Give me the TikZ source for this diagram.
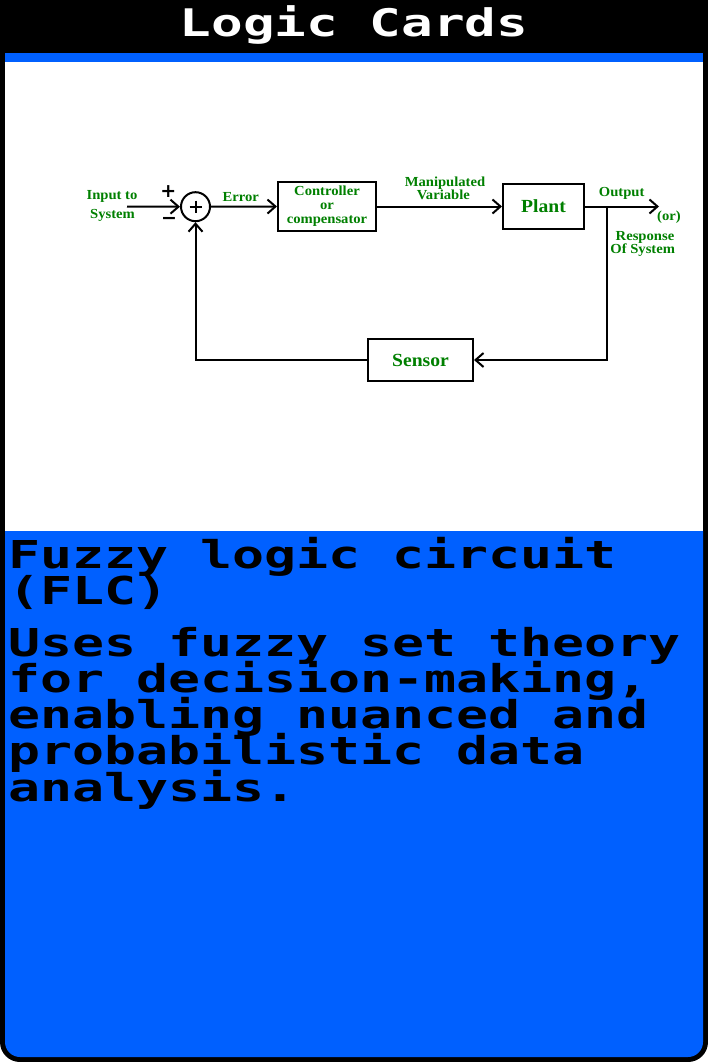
\documentclass[tikz,border=0pt]{standalone}
\usepackage{fontspec}
\usetikzlibrary{arrows.meta}
\newfontfamily\pixfont{DejaVu Sans Mono}[FakeStretch=1.385]
\newfontfamily\labfont{Liberation Serif}[FakeStretch=1.06]
\newfontfamily\symfont{DejaVu Sans}
\definecolor{cardblue}{RGB}{0,96,255}
\definecolor{lblgreen}{RGB}{0,128,0}
\tikzset{
  pix/.style={inner sep=0pt, font=\pixfont\bfseries\fontsize{38.4}{36}\selectfont},
  lbl/.style={inner sep=0pt, text=lblgreen, font=\labfont\bfseries\fontsize{13.8}{14}\selectfont},
  blk/.style={draw=black, line width=2pt, fill=white, inner sep=0pt, text=lblgreen},
  arr/.style={draw=black, line width=2pt, -{Straight Barb[length=8pt,width=14pt,line width=2pt]}},
  sym/.style={inner sep=0pt, font=\symfont\bfseries\fontsize{19}{19}\selectfont}
}
\begin{document}
\begin{tikzpicture}[x=1pt,y=-1pt]
\useasboundingbox (0,0) rectangle (708,1062);
% card
\fill[white] (0,0) rectangle (708,1062);
\fill[black] (0,0) -- (708,0) -- (708,1042) arc(0:90:20) -- (20,1062) arc(90:180:20) -- cycle;
\fill[cardblue] (5,53) rectangle (703,62);
\fill[white] (5,62) rectangle (703,531);
\fill[cardblue] (5,531) -- (703,531) -- (703,1042) arc(0:90:15) -- (20,1057) arc(90:180:15) -- cycle;
% header
\node[pix, text=white, anchor=base, font=\pixfont\bfseries\fontsize{38}{36}\selectfont] (hdr) at (354,37) {Logic Cards};
% diagram
\node[circle, draw=black, line width=2pt, minimum size=29pt, inner sep=0pt] (sum) at (195.5,206.7) {};
\draw[line width=2pt] (sum.center) ++(-6,0) -- ++(12,0) (sum.center) ++(0,-6) -- ++(0,12);
\node[blk, minimum width=98pt, minimum height=49pt, align=center, font=\labfont\bfseries\fontsize{13.8}{14}\selectfont] (ctrl) at (327,206.5) {Controller\\or\\compensator};
\node[blk, minimum width=81pt, minimum height=45pt, font=\labfont\bfseries\fontsize{18.5}{20}\selectfont] (plant) at (543.5,206.5) {Plant};
\node[blk, minimum width=105pt, minimum height=42pt, font=\labfont\bfseries\fontsize{18.5}{20}\selectfont] (sensor) at (420.5,360) {Sensor};
\coordinate (in) at (127,206.5);
\coordinate (out) at (659,206.5);
\coordinate (br) at (607,206.5);
\draw[arr] (in) -- (sum.west);
\draw[arr] (sum.east) -- (ctrl.west);
\draw[arr] (ctrl.east) -- (plant.west);
\draw[arr] (plant.east) -- (out);
\draw[arr] (br) |- (sensor.east);
\draw[arr] (sensor.west) -| (sum.south);
% labels
\node[lbl, anchor=base] (in1) at (112,199.3) {Input to};
\node[lbl, anchor=base] (in2) at (112.5,218.3) {System};
\node[sym] (plus) at (168.3,191.5) {+};
\node[sym, anchor=base] (minus) at (169,224) {\char"2212};
\node[lbl, anchor=base] (err) at (240.7,201.7) {Error};
\node[lbl, anchor=base] (mv1) at (445,186) {Manipulated};
\node[lbl, anchor=base] (mv2) at (443.3,199.3) {Variable};
\node[lbl, anchor=base] (outl) at (621.7,196) {Output};
\node[lbl, anchor=base] (orl) at (669,220.5) {(or)};
\node[lbl, anchor=base] (rs1) at (645,240) {Response};
\node[lbl, anchor=base] (rs2) at (642.7,253.3) {Of System};
% text
\node[pix, anchor=base west] (ti1) at (8,568) {Fuzzy logic circuit};
\node[pix, anchor=base west] (ti2) at (8,604) {(FLC)};
\node[pix, anchor=base west] (d1) at (8,656) {Uses fuzzy set theory};
\node[pix, anchor=base west] (d2) at (8,692.5) {for decision-making,};
\node[pix, anchor=base west] (d3) at (8,728.7) {enabling nuanced and};
\node[pix, anchor=base west] (d4) at (8,764.7) {probabilistic data};
\node[pix, anchor=base west] (d5) at (8,801) {analysis.};
\end{tikzpicture}
\end{document}
